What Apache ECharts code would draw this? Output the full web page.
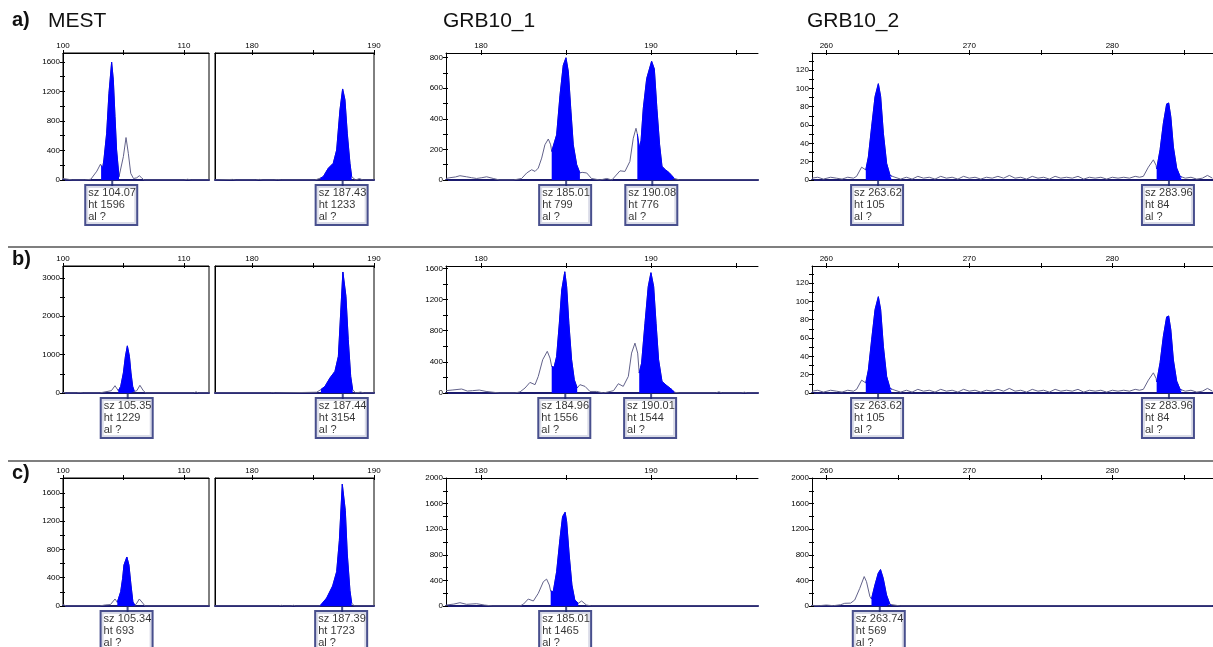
<!DOCTYPE html>
<html>
<head>
<meta charset="utf-8">
<script src="https://cdn.jsdelivr.net/npm/echarts@6/dist/echarts.min.js"></script>
<style>
html, body { margin: 0; padding: 0; background: #fff; }
#main { width: 1213px; height: 647px; }
</style>
</head>
<body>
<div id="main"></div>
<script>
// ---- traces [size, height] ----
var mestA = [[100,20],[100.4,10],[100.8,0],[101.8,0],[102.3,10],[102.8,120],[103.1,215],[103.15,195],[103.28,165],[103.38,271],[103.61,633],[103.8,1175],[104.02,1596],[104.16,1356],[104.3,859],[104.43,407],[104.63,45],[104.77,20],[104.99,316],[105.21,575],[105.4,362],[105.6,90],[105.83,20],[106.1,30],[106.31,58],[106.5,30],[106.7,0],[110,0],[110.3,10],[110.6,0],[112.2,0],
  [177,0],[178.4,8],[178.7,0],[180.3,0],[180.6,8],[180.9,0],[181.8,0],[182.1,6],[182.4,0],[185.16,0],[185.6,25],[185.84,45],[186.25,158],[186.66,226],[186.94,407],[187.21,949],[187.43,1233],[187.62,1085],[187.81,633],[188.03,226],[188.17,45],[188.5,0],[188.8,20],[189.1,0],[190,0]];
var mestB = [[100,15],[100.3,0],[101.1,0],[101.4,15],[101.7,0],[103,0],[103.33,20],[104,60],[104.3,190],[104.57,60],[104.77,172],[104.99,522],[105.16,955],[105.32,1229],[105.49,955],[105.62,522],[105.76,172],[105.9,40],[106.1,60],[106.36,200],[106.64,60],[106.85,0],[110.8,0],[111,30],[111.2,0],[112.2,0],
  [177,0],[181.5,0],[181.7,10],[181.9,0],[185.3,20],[185.65,90],[185.98,172],[186.39,391],[186.8,564],[187.08,955],[187.27,2087],[187.45,3154],[187.7,2520],[187.89,1391],[188.09,433],[188.25,86],[188.5,0],[188.9,25],[189.2,0],[190,0]];
var mestC = [[100,20],[100.3,0],[103,0],[103.5,15],[103.92,20],[104.3,99],[104.49,52],[104.77,203],[104.93,391],[105.04,580],[105.28,693],[105.45,580],[105.62,297],[105.78,57],[105.95,10],[106.1,40],[106.31,99],[106.6,40],[106.78,0],[112.2,0],
  [177,0],[182.2,0],[182.4,10],[182.6,0],[183.2,0],[183.4,10],[183.6,0],[185.5,0],[185.6,10],[185.71,14],[186.12,113],[186.61,283],[186.94,486],[187.16,925],[187.4,1723],[187.65,1349],[187.81,736],[188.03,217],[188.17,42],[188.4,0],[190,0]];

var grb1A = [[177.94,10],[178.17,15],[178.5,20],[178.76,28],[179.15,21],[179.45,15],[179.74,10],[180.05,15],[180.33,21],[180.72,10],[181.1,0],[181.9,0],[182.39,10],[182.69,46],[182.98,67],[183.18,56],[183.37,78],[183.57,143],[183.76,230],[183.96,268],[184.1,230],[184.16,187],[184.25,176],[184.45,295],[184.65,555],[184.84,750],[185,799],[185.14,707],[185.28,468],[185.43,230],[185.63,100],[185.82,46],[185.95,50],[186.22,46],[186.5,10],[187,0],[187.4,10],[187.7,0],[188.18,60],[188.47,56],[188.76,121],[188.96,273],[189.12,338],[189.2,300],[189.25,260],[189.33,208],[189.42,260],[189.55,468],[189.75,663],[190.04,776],[190.2,725],[190.35,468],[190.51,230],[190.65,89],[190.85,67],[191.05,50],[191.22,30],[191.38,10],[191.7,0],[196.3,0]];
var grb1B = [[177.94,30],[178.3,38],[178.86,51],[179.2,25],[179.5,30],[179.9,38],[180.3,20],[180.7,10],[181.1,0],[182,0],[182.3,15],[182.59,64],[182.88,136],[183.18,107],[183.37,213],[183.63,427],[183.9,535],[184.06,448],[184.16,341],[184.3,330],[184.45,469],[184.61,896],[184.75,1322],[184.93,1556],[185.04,1365],[185.17,896],[185.33,427],[185.49,170],[185.66,64],[185.82,107],[186.12,85],[186.41,20],[186.8,20],[187.2,0],[187.8,30],[188.08,119],[188.37,85],[188.67,213],[188.86,512],[189.06,640],[189.22,512],[189.31,256],[189.45,384],[189.65,896],[189.84,1365],[190,1544],[190.16,1365],[190.3,896],[190.45,427],[190.65,149],[190.94,93],[191.24,43],[191.38,10],[191.7,0],[193.8,0],[194,15],[194.2,0],[195.3,0],[195.5,10],[195.7,0],[196.3,0]];
var grb1C = [[177.94,15],[178.4,30],[178.76,52],[179.15,26],[179.74,36],[180.2,15],[180.7,0],[182.3,0],[182.5,30],[182.78,109],[183.08,78],[183.37,198],[183.67,380],[183.86,420],[184.02,328],[184.1,234],[184.25,224],[184.45,536],[184.65,1058],[184.8,1396],[184.95,1465],[185.04,1318],[185.19,797],[185.35,328],[185.52,94],[185.72,42],[185.92,78],[186.2,16],[186.5,0],[196.3,0]];

var grb2A = [[259,2],[259.4,3],[259.8,1],[260.3,3],[260.7,2],[261.1,1],[261.5,3],[261.9,2],[262.12,4],[262.47,14],[262.59,16],[262.76,11],[262.94,25],[263.17,58],[263.41,91],[263.64,105],[263.8,91],[263.99,51],[264.22,18],[264.46,5],[264.58,4],[264.8,3],[265.2,1],[265.6,3],[266,1],[266.4,4],[266.8,2],[267.2,3],[267.6,1],[268,4],[268.4,2],[268.8,3],[269.2,1],[269.6,4],[270,2],[270.4,3],[270.8,1],[271.2,3],[271.6,2],[272,4],[272.4,2],[272.8,5],[273.2,2],[273.6,3],[274,1],[274.4,4],[274.8,2],[275.2,3],[275.6,1],[276,4],[276.4,2],[276.8,3],[277.2,2],[277.6,4],[278,1],[278.4,3],[278.8,2],[279.2,3],[279.6,1],[280,3],[280.4,2],[280.8,3],[281.2,2],[281.6,4],[281.9,3],[282.17,4],[282.52,14],[282.87,22],[283.06,16],[283.1,12],[283.34,33],[283.57,62],[283.8,83],[283.94,84],[284.09,69],[284.27,36],[284.5,13],[284.74,4],[284.86,3],[285.1,2],[285.5,3],[285.9,1],[286.3,2],[286.65,5],[287,2]];
var grb2B = grb2A;
var grb2C = [[259,10],[259.5,5],[260,15],[260.5,5],[261,20],[261.29,42],[261.7,45],[261.99,94],[262.34,276],[262.65,460],[262.81,380],[263.05,146],[263.16,109],[263.4,328],[263.63,511],[263.79,569],[263.98,432],[264.21,172],[264.45,26],[264.57,5],[265.2,0],[287,0]];

// ---- called (blue) regions ----
var mestAFill = [[103.15,104.63],[185.6,188.17]];
var mestBFill = [[104.57,105.9],[185.65,188.25]];
var mestCFill = [[104.49,105.95],[185.6,188.17]];
var grb1AFill = [[184.16,185.82],[189.2,191.38]];
var grb1BFill = [[184.16,185.66],[189.31,191.38]];
var grb1CFill = [[184.1,185.72]];
var grb2AFill = [[262.76,264.58],[283.1,284.86]];
var grb2CFill = [[263.16,264.57]];

// ---- peak calls [size, height] ----
var mestAPeaks = [[104.07,1596],[187.43,1233]];
var mestBPeaks = [[105.35,1229],[187.44,3154]];
var mestCPeaks = [[105.34,693],[187.39,1723]];
var grb1APeaks = [[185.01,799],[190.08,776]];
var grb1BPeaks = [[184.96,1556],[190.01,1544]];
var grb1CPeaks = [[185.01,1465]];
var grb2APeaks = [[263.62,105],[283.96,84]];
var grb2CPeaks = [[263.74,569]];

// ---- axis ticks / labels ----
var mestLoTicks = [100,105,110], mestLoLabels = [100,110];
var mestHiTicks = [180,185,190], mestHiLabels = [180,190];
var grb1Ticks = [180,185,190,195], grb1Labels = [180,190];
var grb2Ticks = [260,265,270,275,280,285], grb2Labels = [260,270,280];
var yTicks1600 = [0,200,400,600,800,1000,1200,1400,1600], yLabels1600 = [0,400,800,1200,1600];
var yTicks3000 = [0,500,1000,1500,2000,2500,3000], yLabels3000 = [0,1000,2000,3000];
var yTicks1800 = [0,200,400,600,800,1000,1200,1400,1600,1800];
var yTicks800 = [0,100,200,300,400,500,600,700,800], yLabels800 = [0,200,400,600,800];
var yTicks2000 = [0,200,400,600,800,1000,1200,1400,1600,1800,2000], yLabels2000 = [0,400,800,1200,1600,2000];
var yTicks130 = [0,10,20,30,40,50,60,70,80,90,100,110,120,130], yLabels120 = [0,20,40,60,80,100,120];

var FONT = '"Liberation Sans", Arial, sans-serif';
var NAVY = '#1b1b6e', TRACE = '#62628a', BLUE = '#0000ff', BOX = '#1a2370';

var grids = [], xAxes = [], yAxes = [], series = [];

function addPanel(p) {
  var gi = grids.length;
  grids.push({left: p.left, top: p.top, width: p.width, height: p.height,
    show: !!p.box, borderColor: '#000', borderWidth: 1, backgroundColor: 'rgba(0,0,0,0)'});
  var xi = xAxes.length;
  xAxes.push({gridIndex: gi, type: 'value', position: 'top', min: p.xMin, max: p.xMax,
    axisLine: {show: true, onZero: false, lineStyle: {color: '#000', width: 1}},
    axisTick: {show: true, length: 3, customValues: p.xTicks, lineStyle: {color: '#000'}},
    axisLabel: {show: true, customValues: p.xLabels, fontSize: 8, margin: 3, color: '#000', fontFamily: FONT,
      formatter: function (v) { return String(v); }},
    splitLine: {show: false}});
  // inner half of the crossing ticks
  xAxes.push({gridIndex: gi, type: 'value', position: 'top', min: p.xMin, max: p.xMax,
    axisLine: {show: false, onZero: false},
    axisTick: {show: true, inside: true, length: 2, customValues: p.xTicks, lineStyle: {color: '#000'}},
    axisLabel: {show: false}, splitLine: {show: false}});
  xAxes.push({gridIndex: gi, type: 'value', position: 'bottom', min: p.xMin, max: p.xMax,
    axisLine: {show: true, onZero: false, lineStyle: {color: NAVY, width: 2}},
    axisTick: {show: false}, axisLabel: {show: false}, splitLine: {show: false}});
  var yi = yAxes.length;
  yAxes.push({gridIndex: gi, type: 'value', position: 'left', min: 0, max: p.yMax,
    axisLine: {show: true, onZero: false, lineStyle: {color: '#000', width: 1}},
    axisTick: {show: !!p.yTicks, length: 3, customValues: p.yTicks || [], lineStyle: {color: '#000'}},
    axisLabel: {show: !!p.yLabels, customValues: p.yLabels || [], fontSize: 8, margin: 3, color: '#000', fontFamily: FONT,
      formatter: function (v) { return String(v); }},
    splitLine: {show: false}});
  if (p.yTicks) {
    yAxes.push({gridIndex: gi, type: 'value', position: 'left', min: 0, max: p.yMax,
      axisLine: {show: false, onZero: false},
      axisTick: {show: true, inside: true, length: 2, customValues: p.yTicks, lineStyle: {color: '#000'}},
      axisLabel: {show: false}, splitLine: {show: false}});
  }

  series.push({type: 'line', xAxisIndex: xi, yAxisIndex: yi, data: p.trace, symbol: 'none',
    lineStyle: {color: TRACE, width: 1}, z: 2, silent: true});

  p.fill.forEach(function (r) {
    var pts = p.trace.filter(function (d) { return d[0] >= r[0] && d[0] <= r[1] && d[0] >= p.xMin && d[0] <= p.xMax; });
    if (pts.length < 2) return;
    series.push({type: 'line', xAxisIndex: xi, yAxisIndex: yi, data: pts, symbol: 'none',
      lineStyle: {color: BLUE, width: 1}, areaStyle: {color: BLUE, opacity: 1}, z: 3, silent: true});
  });

  var pk = p.peaks.filter(function (d) { return d[0] >= p.xMin && d[0] <= p.xMax; });
  if (pk.length) {
    series.push({type: 'scatter', xAxisIndex: xi, yAxisIndex: yi, clip: false, z: 5, silent: true,
      data: pk.map(function (d) { return [d[0], 0, d[1]]; }),
      symbol: 'rect', symbolSize: [2, 6], symbolOffset: [0, 3], itemStyle: {color: BOX},
      label: {show: true, position: 'bottom', distance: 0, align: 'left', offset: [-26, 0],
        formatter: function (q) { return 'sz ' + q.value[0].toFixed(2) + '\nht ' + q.value[2] + '\nal ?'; },
        fontSize: 11, lineHeight: 12, fontFamily: FONT, color: '#000',
        backgroundColor: '#fff', borderColor: BOX, borderWidth: 2, padding: [1, 2, 1, 2], width: 46}});
  }
}

var rowTop = [53, 266, 478];
var rowH = [127, 127, 128];
var rows = [
  {mest: mestA, mestFill: mestAFill, mestPeaks: mestAPeaks, mestMax: 1720, mestYT: yTicks1600, mestYL: yLabels1600,
   g1: grb1A, g1Fill: grb1AFill, g1Peaks: grb1APeaks, g1Max: 830, g1YT: yTicks800, g1YL: yLabels800,
   g2: grb2A, g2Fill: grb2AFill, g2Peaks: grb2APeaks, g2Max: 138.5, g2YT: yTicks130, g2YL: yLabels120},
  {mest: mestB, mestFill: mestBFill, mestPeaks: mestBPeaks, mestMax: 3310, mestYT: yTicks3000, mestYL: yLabels3000,
   g1: grb1B, g1Fill: grb1BFill, g1Peaks: grb1BPeaks, g1Max: 1630, g1YT: yTicks1600, g1YL: yLabels1600,
   g2: grb2B, g2Fill: grb2AFill, g2Peaks: grb2APeaks, g2Max: 138.5, g2YT: yTicks130, g2YL: yLabels120},
  {mest: mestC, mestFill: mestCFill, mestPeaks: mestCPeaks, mestMax: 1810, mestYT: yTicks1800, mestYL: yLabels1600,
   g1: grb1C, g1Fill: grb1CFill, g1Peaks: grb1CPeaks, g1Max: 2000, g1YT: yTicks2000, g1YL: yLabels2000,
   g2: grb2C, g2Fill: grb2CFill, g2Peaks: grb2CPeaks, g2Max: 2000, g2YT: yTicks2000, g2YL: yLabels2000}
];

rows.forEach(function (r, i) {
  var top = rowTop[i], h = rowH[i];
  addPanel({left: 63, top: top, width: 146, height: h, box: true, xMin: 100, xMax: 112.07,
    xTicks: mestLoTicks, xLabels: mestLoLabels, yMax: r.mestMax, yTicks: r.mestYT, yLabels: r.mestYL,
    trace: r.mest, fill: r.mestFill, peaks: r.mestPeaks});
  addPanel({left: 215, top: top, width: 159, height: h, box: true, xMin: 176.97, xMax: 190,
    xTicks: mestHiTicks, xLabels: mestHiLabels, yMax: r.mestMax,
    trace: r.mest, fill: r.mestFill, peaks: r.mestPeaks});
  addPanel({left: 446, top: top, width: 312, height: h, xMin: 177.94, xMax: 196.3,
    xTicks: grb1Ticks, xLabels: grb1Labels, yMax: r.g1Max, yTicks: r.g1YT, yLabels: r.g1YL,
    trace: r.g1, fill: r.g1Fill, peaks: r.g1Peaks});
  addPanel({left: 812, top: top, width: 401, height: h, xMin: 259, xMax: 287.04,
    xTicks: grb2Ticks, xLabels: grb2Labels, yMax: r.g2Max, yTicks: r.g2YT, yLabels: r.g2YL,
    trace: r.g2, fill: r.g2Fill, peaks: r.g2Peaks});
});

var titleStyle = {fontSize: 21, fontWeight: 'normal', fontFamily: FONT, color: '#111'};
var tagStyle = {fontSize: 20, fontWeight: 'bold', fontFamily: FONT, color: '#111'};

var chart = echarts.init(document.getElementById('main'));
chart.setOption({
  animation: false,
  backgroundColor: '#fff',
  title: [
    {text: 'a)', left: 12, top: 10, padding: 0, textStyle: tagStyle},
    {text: 'b)', left: 12, top: 249, padding: 0, textStyle: tagStyle},
    {text: 'c)', left: 12, top: 463, padding: 0, textStyle: tagStyle},
    {text: 'MEST', left: 48, top: 11, padding: 0, textStyle: titleStyle},
    {text: 'GRB10_1', left: 443, top: 11, padding: 0, textStyle: titleStyle},
    {text: 'GRB10_2', left: 807, top: 11, padding: 0, textStyle: titleStyle}
  ],
  graphic: [
    {type: 'line', shape: {x1: 8, y1: 247, x2: 1213, y2: 247}, style: {stroke: '#555', lineWidth: 1.5}},
    {type: 'line', shape: {x1: 8, y1: 461, x2: 1213, y2: 461}, style: {stroke: '#555', lineWidth: 1.5}}
  ],
  grid: grids,
  xAxis: xAxes,
  yAxis: yAxes,
  series: series
});
</script>
</body>
</html>
